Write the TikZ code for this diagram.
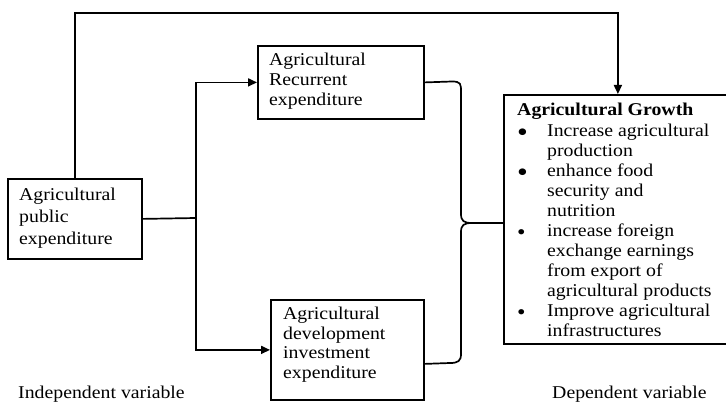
\documentclass[tikz,border=0pt]{standalone}
\usepackage{fontspec}
\setmainfont{Liberation Serif}[FakeStretch=1.1]
\usetikzlibrary{arrows.meta}
\newcommand\mybul[2]{\makebox[30pt][l]{\raisebox{-#2}{\fontsize{#1}{20}\selectfont\textbullet}}}
\begin{document}
\begin{tikzpicture}[x=1pt,y=-1pt,
  box/.style={draw, line width=1.8pt, inner sep=0pt, rectangle, anchor=north west},
  txt/.style={inner sep=0pt, anchor=base west, align=left, text width=#1},
  txt/.default=140pt,
  conn/.style={line width=1.7pt},
  arr/.style={conn, -{Triangle[length=9pt,width=8pt]}},
]
\useasboundingbox (0,0) rectangle (726,403);

% boxes
\node[box, minimum width=134pt, minimum height=80pt] (pub) at (7,178) {};
\node[box, minimum width=166pt, minimum height=73pt] (rec) at (257,45) {};
\node[box, minimum width=153pt, minimum height=100pt] (dev) at (270,299) {};
\node[box, minimum width=228pt, minimum height=249pt] (grow) at (503,94) {};

% box texts
\node[txt, font=\fontsize{18}{22}\selectfont] (pubt) at (19,201) {Agricultural\\public\\expenditure};
\node[txt, font=\fontsize{18}{20}\selectfont] (rect) at (269,66) {Agricultural\\Recurrent\\expenditure};
\node[txt, font=\fontsize{18}{19.5}\selectfont] (devt) at (283,320) {Agricultural\\development\\investment\\expenditure};
\node[inner sep=0pt, anchor=base west, font=\fontsize{18}{20}\selectfont] (growt) at (517,116) {%
\begin{tabular}[t]{@{}l@{}l@{}}
\multicolumn{2}{@{}l@{}}{\bfseries Agricultural Growth}\\[1pt]
\mybul{28}{4.5pt} & Increase agricultural\\
 & production\\
\mybul{28}{4.5pt} & enhance food\\
 & security and\\
 & nutrition\\
\mybul{22}{2.5pt} & increase foreign\\
 & exchange earnings\\
 & from export of\\
 & agricultural products\\
\mybul{22}{2.5pt} & Improve agricultural\\
 & infrastructures
\end{tabular}};

% bottom labels
\node[inner sep=0pt, anchor=base west, font=\fontsize{18}{20}\selectfont] (indep) at (18,399) {Independent variable};
\node[inner sep=0pt, anchor=base west, font=\fontsize{18}{20}\selectfont] (depv) at (552,399) {Dependent variable};

% connectors
\coordinate (topy) at (0,13);
\coordinate (split) at (196,218);
\draw[arr] (pub.north) -- (pub.north |- topy) -| (grow.north);
\draw[conn] (pub.east) -- (split);
\draw[arr] (split) |- (rec.west);
\draw[arr] (split) |- (dev.west);

% brace
\coordinate (tip) at (472,223);
\coordinate (rb) at (rec.east);
\coordinate (db) at ([yshift=-14pt]dev.east);
\draw[conn] (rb) -- (452,81.5) .. controls (461,81.5) and (461,84) .. (461,92)
  -- (461,214) .. controls (461,221) and (464,223) .. (tip)
  .. controls (464,223) and (461,225) .. (461,232)
  -- (461,354) .. controls (461,361) and (458,363) .. (450,363) -- (db);
\draw[conn] (tip) -- (grow.west |- tip);
\end{tikzpicture}
\end{document}
